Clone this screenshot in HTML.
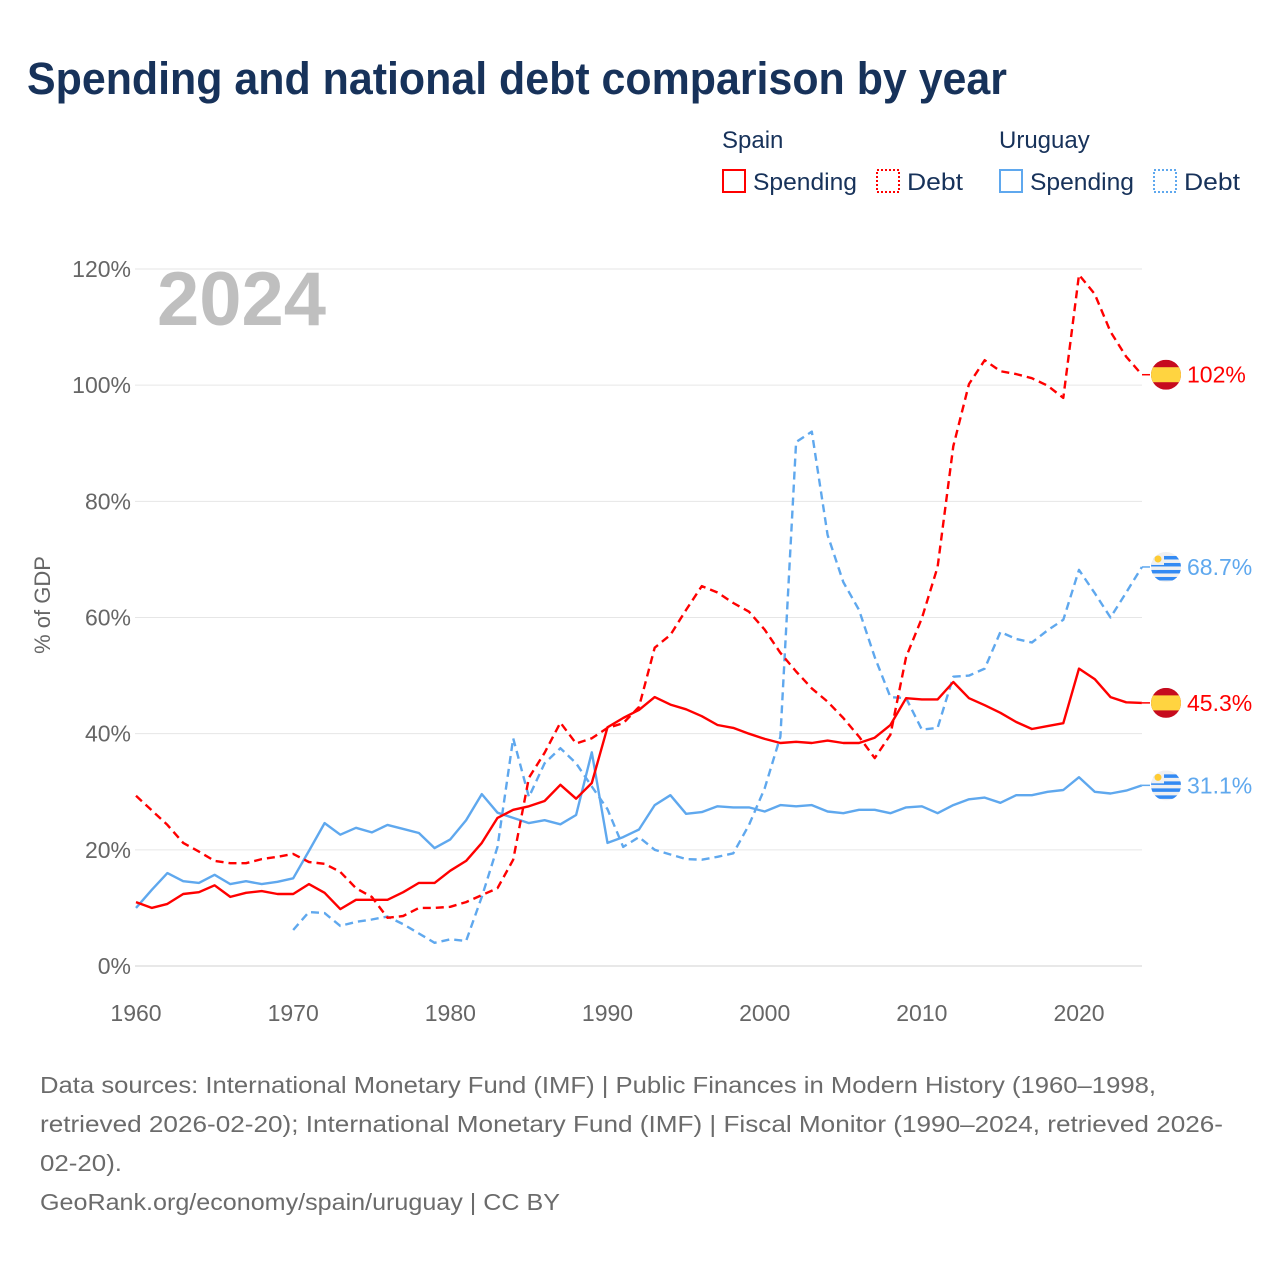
<!DOCTYPE html>
<html><head><meta charset="utf-8"><style>
body{margin:0;background:#fff;}
svg{display:block;font-family:"Liberation Sans",sans-serif;}
</style></head><body>
<svg id="chart" width="1280" height="1280" viewBox="0 0 1280 1280" xmlns="http://www.w3.org/2000/svg">
<rect width="1280" height="1280" fill="#fff"/>
<text x="27" y="94" font-size="45" font-weight="bold" fill="#17325a" textLength="980" lengthAdjust="spacingAndGlyphs">Spending and national debt comparison by year</text>
<g font-size="24" fill="#17325a">
<text x="722" y="148">Spain</text>
<text x="999" y="148">Uruguay</text>
<g><rect x="723" y="170" width="22" height="22" fill="none" stroke="#ff0000" stroke-width="2"/><text x="753" y="190" textLength="104" lengthAdjust="spacingAndGlyphs">Spending</text></g>
<g><rect x="877" y="170" width="22" height="22" fill="none" stroke="#ff0000" stroke-width="2" stroke-dasharray="2 2"/><text x="907" y="190" textLength="56" lengthAdjust="spacingAndGlyphs">Debt</text></g>
<g><rect x="1000" y="170" width="22" height="22" fill="none" stroke="#5fa8ee" stroke-width="2"/><text x="1030" y="190" textLength="104" lengthAdjust="spacingAndGlyphs">Spending</text></g>
<g><rect x="1154" y="170" width="22" height="22" fill="none" stroke="#5fa8ee" stroke-width="2" stroke-dasharray="2 2"/><text x="1184" y="190" textLength="56" lengthAdjust="spacingAndGlyphs">Debt</text></g>
</g>
<g id="grid"></g>
<g id="yticks"></g>
<g id="xticks"></g>
<text x="157" y="325" font-size="76" font-weight="bold" fill="#bfbfbf">2024</text>
<text transform="translate(50,605) rotate(-90)" text-anchor="middle" font-size="22" fill="#666">% of GDP</text>
<g id="series"></g>
<g id="endlabels"></g>
<g font-size="23" fill="#6b6b6b">
<text x="40" y="1093" textLength="1116" lengthAdjust="spacingAndGlyphs">Data sources: International Monetary Fund (IMF) | Public Finances in Modern History (1960–1998,</text>
<text x="40" y="1132" textLength="1183" lengthAdjust="spacingAndGlyphs">retrieved 2026-02-20); International Monetary Fund (IMF) | Fiscal Monitor (1990–2024, retrieved 2026-</text>
<text x="40" y="1171" textLength="82" lengthAdjust="spacingAndGlyphs">02-20).</text>
<text x="40" y="1210" textLength="520" lengthAdjust="spacingAndGlyphs">GeoRank.org/economy/spain/uruguay | CC BY</text>
</g>
</svg>
<script>
const years = [];
for (let y = 1960; y <= 2024; y++) years.push(y);
const spainSpending = [11.0,10.0,10.7,12.4,12.7,13.9,11.9,12.6,12.9,12.4,12.4,14.1,12.6,9.8,11.4,11.4,11.4,12.7,14.3,14.3,16.4,18.1,21.2,25.5,26.9,27.5,28.4,31.2,28.8,31.5,41.1,42.7,44.1,46.3,45.0,44.2,43.0,41.5,41.0,40.0,39.1,38.4,38.6,38.4,38.8,38.4,38.4,39.3,41.5,46.1,45.9,45.9,48.9,46.1,44.9,43.6,42.0,40.8,41.3,41.8,51.2,49.4,46.3,45.4,45.3];
const spainDebt = [29.3,26.8,24.3,21.2,19.7,18.1,17.7,17.7,18.4,18.8,19.3,17.9,17.6,16.2,13.4,11.9,8.3,8.6,10.0,10.0,10.2,11.0,12.2,13.4,18.3,32.4,36.7,41.9,38.3,39.2,41.0,41.8,44.6,54.8,57.0,61.3,65.4,64.3,62.5,61.0,57.9,53.9,50.7,47.8,45.5,42.7,39.5,35.8,39.8,53.2,59.9,68.7,89.5,100.2,104.3,102.4,101.9,101.2,99.9,97.8,119.0,115.7,109.2,104.9,101.8];
const uruguaySpending = [10.0,13.1,16.0,14.6,14.3,15.7,14.1,14.6,14.1,14.5,15.1,19.8,24.6,22.6,23.8,23.0,24.3,23.6,22.9,20.3,21.8,25.1,29.6,26.4,25.5,24.6,25.1,24.4,26.0,36.8,21.2,22.2,23.5,27.7,29.4,26.2,26.5,27.5,27.3,27.3,26.6,27.7,27.5,27.7,26.6,26.3,26.9,26.9,26.3,27.3,27.5,26.3,27.7,28.7,29.0,28.1,29.4,29.4,30.0,30.3,32.5,30.0,29.7,30.2,31.1];
const uruguayDebt = [null,null,null,null,null,null,null,null,null,null,6.2,9.3,9.1,6.9,7.6,8.0,8.5,7.2,5.6,4.0,4.6,4.3,11.9,20.5,39.2,29.1,34.9,37.5,34.9,30.9,27.0,20.5,22.2,20.0,19.2,18.4,18.3,18.8,19.4,24.3,30.6,39.5,90.2,92.0,74.2,66.1,61.3,53.2,46.3,46.1,40.7,41.0,49.8,50.0,51.2,57.5,56.3,55.7,57.8,59.6,68.2,64.2,60.0,64.3,68.7];
const yTicks = [0,20,40,60,80,100,120];
const xTicks = [1960,1970,1980,1990,2000,2010,2020];
const endLabels = ["45.3%","102%","31.1%","68.7%"];

const NS = "http://www.w3.org/2000/svg";
const X0 = 136, X1 = 1141.9, Y0 = 966, Y1 = 269;
function xs(yr){ return X0 + (yr - 1960) * (X1 - X0) / 64; }
function ys(v){ return Y0 - v * (Y0 - Y1) / 120; }
function mk(tag, attrs, parent){ const e = document.createElementNS(NS, tag); for (const k in attrs) e.setAttribute(k, attrs[k]); parent.appendChild(e); return e; }

const grid = document.getElementById('grid');
const yt = document.getElementById('yticks');
yTicks.forEach(t => {
  const l = mk('line', {x1:135, x2:1142, y1:ys(t), y2:ys(t), stroke: t===0 ? '#d0d0d0' : '#e6e6e6', 'stroke-width':1}, grid);
  
  
  const tx = mk('text', {x:131, y:ys(t)+8, 'text-anchor':'end', 'font-size':23, fill:'#666'}, yt);
  tx.textContent = t + '%';
  
  
});
const xt = document.getElementById('xticks');
xTicks.forEach(t => {
  const tx = mk('text', {x:xs(t), y:1021, 'text-anchor':'middle', 'font-size':23, fill:'#666'}, xt);
  tx.textContent = t;
  
  
});

const series = document.getElementById('series');
function drawLine(vals, color, dashed, name){
  let d = '', started = false;
  vals.forEach((v, i) => {
    if (v === null) return;
    d += (started ? 'L' : 'M') + xs(years[i]).toFixed(1) + ',' + ys(v).toFixed(1);
    started = true;
  });
  const p = mk('path', {d:d, fill:'none', stroke:color, 'stroke-width':2.4, 'stroke-linejoin':'round'}, series);
  if (dashed) p.setAttribute('stroke-dasharray', '8 5');
  
  
}
drawLine(uruguayDebt, '#5fa8ee', true, 'line-uruguay-debt');
drawLine(uruguaySpending, '#5fa8ee', false, 'line-uruguay-spending');
drawLine(spainDebt, '#ff0000', true, 'line-spain-debt');
drawLine(spainSpending, '#ff0000', false, 'line-spain-spending');

const el = document.getElementById('endlabels');
const last = years.length - 1;
function flag(cy, country, valueText, color, name){
  const cx = 1166;
  const g = mk('g', {}, el);
  
  
  mk('line', {x1:1142, x2:1150, y1:cy, y2:cy, stroke:color, 'stroke-width':1.5}, g);
  const cid = 'clip-' + name;
  const cp = mk('clipPath', {id:cid}, g);
  mk('circle', {cx:cx, cy:cy, r:15}, cp);
  const fg = mk('g', {'clip-path':'url(#' + cid + ')'}, g);
  if (country === 'spain') {
    mk('rect', {x:cx-15, y:cy-15, width:30, height:30, fill:'#c60b1e'}, fg);
    mk('rect', {x:cx-15, y:cy-7.5, width:30, height:15, fill:'#ffd440'}, fg);
  } else {
    mk('rect', {x:cx-15, y:cy-15, width:30, height:30, fill:'#f0f0f0'}, fg);
    for (let k = 0; k < 4; k++) mk('rect', {x:cx-15, y:cy-11 + k*7, width:30, height:3.5, fill:'#338af3'}, fg);
    mk('rect', {x:cx-15, y:cy-15, width:13, height:13, fill:'#f0f0f0'}, fg);
    mk('circle', {cx:cx-8, cy:cy-8, r:3.5, fill:'#ffcc33'}, fg);
  }
  const t = mk('text', {x:1187, y:cy+8, 'font-size':23, fill:color}, g);
  t.textContent = valueText;
}
flag(ys(spainSpending[last]), 'spain', endLabels[0], '#ff0000', 'end-label-spain-spending');
flag(ys(spainDebt[last]), 'spain', endLabels[1], '#ff0000', 'end-label-spain-debt');
flag(ys(uruguaySpending[last]), 'uruguay', endLabels[2], '#5fa8ee', 'end-label-uruguay-spending');
flag(ys(uruguayDebt[last]), 'uruguay', endLabels[3], '#5fa8ee', 'end-label-uruguay-debt');
</script>
</body></html>
